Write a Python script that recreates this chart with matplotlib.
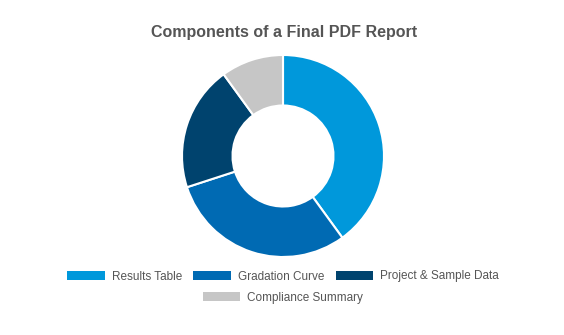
import matplotlib.pyplot as plt
from matplotlib.patches import Patch

labels = ['Results Table', 'Gradation Curve', 'Project & Sample Data', 'Compliance Summary']
values = [40, 30, 20, 10]
colors = ['#0098DB', '#006AB3', '#00436E', '#C6C6C6']

plt.rcParams['font.family'] = ['Liberation Sans', 'DejaVu Sans']

fig = plt.figure(figsize=(5.64, 3.35), dpi=100)
W, H = 564, 335
cx, cy, r = 283, 156, 101
ax = fig.add_axes([(cx - r) / W, (H - cy - r) / H, 2 * r / W, 2 * r / H])
ax.pie(values, colors=colors, startangle=90, counterclock=False, radius=1,
       wedgeprops=dict(width=0.5, edgecolor='white', linewidth=1.5))
ax.set_xlim(-1, 1)
ax.set_ylim(-1, 1)
ax.set_aspect('equal')
ax.axis('off')

fig.text(284 / W, 1 - 33 / H, 'Components of a Final PDF Report', ha='center', va='center',
         fontsize=11.5, fontweight='bold', color='#555555')

handles = [Patch(facecolor=c, edgecolor='none') for c in colors]
leg_kw = dict(frameon=False, fontsize=8.5, labelcolor='#555555', handlelength=3.2,
              handleheight=0.85, handletextpad=0.6, columnspacing=0.95,
              borderpad=0, borderaxespad=0)
fig.legend(handles[:3], labels[:3], ncol=3, loc='center',
           bbox_to_anchor=(283 / W, 1 - 276.5 / H), **leg_kw)
fig.legend(handles[3:], labels[3:], ncol=1, loc='center',
           bbox_to_anchor=(283 / W, 1 - 297.5 / H), **leg_kw)

fig.savefig('out.png', dpi=100, facecolor='white')
